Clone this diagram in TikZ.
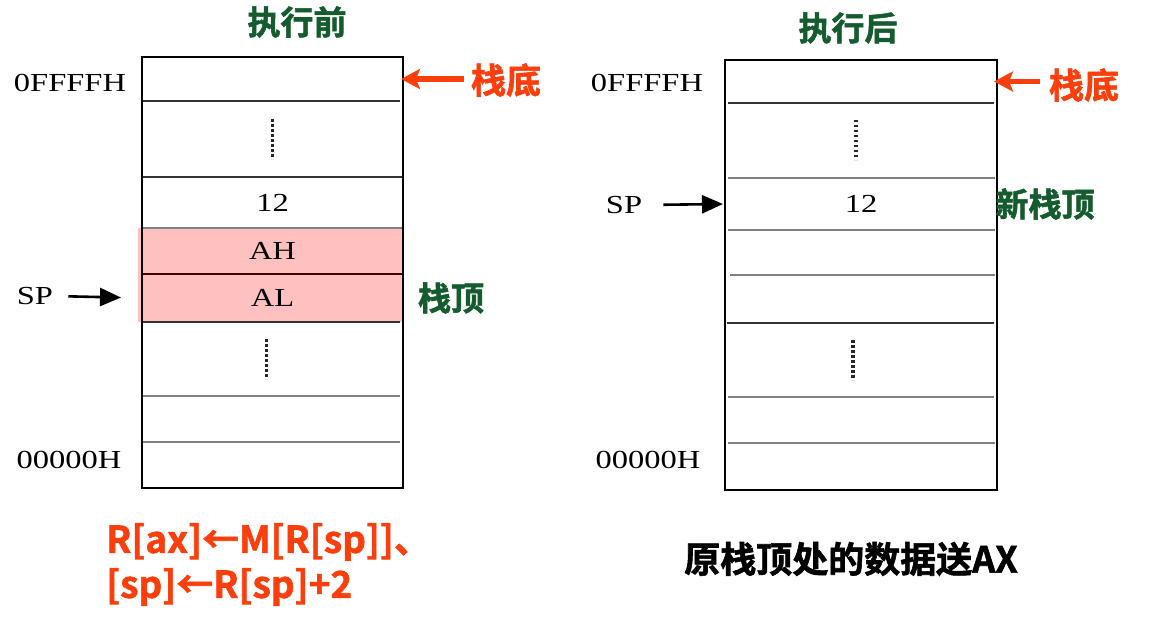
\documentclass[tikz,border=0pt]{standalone}
\usepackage{fontspec}
\setmainfont{Liberation Serif}
\newfontfamily\memfont{Liberation Serif}[FakeStretch=1.25]
\newfontfamily\cjkfont{Noto Sans CJK SC Bold}[FakeBold=1.6]
\usetikzlibrary{arrows.meta,positioning,backgrounds}
\definecolor{stackGreen}{RGB}{20,92,46}
\definecolor{stackRed}{RGB}{250,62,12}
\definecolor{cellPink}{RGB}{255,192,192}
\tikzset{
  cell/.style={minimum width=261pt,inner sep=0pt,outer sep=0pt,font=\memfont\fontsize{26}{26}\selectfont},
  addr/.style={inner sep=0pt,font=\memfont\fontsize{26}{26}\selectfont},
  frame/.style={draw=black,line width=2.8pt},
  sep/.style={draw=black!80,line width=2.2pt},
  sep gray/.style={draw=black!50,line width=1.8pt},
  dots/.style={draw=black!85,line width=3.4pt,dash pattern=on 2.6pt off 2.4pt},
  title/.style={inner sep=0pt,text=stackGreen,font=\cjkfont\fontsize{33}{33}\selectfont},
  green label/.style={inner sep=0pt,text=stackGreen,font=\cjkfont\fontsize{33}{33}\selectfont},
  red label/.style={inner sep=0pt,text=stackRed,font=\cjkfont\fontsize{35}{35}\selectfont},
  formula/.style={inner sep=0pt,anchor=west,text=stackRed,font=\cjkfont\fontsize{37}{37}\selectfont},
  note/.style={inner sep=0pt,text=black,font=\cjkfont\fontsize{36}{36}\selectfont},
  sp arrow/.style={-{Triangle[length=21pt,width=18pt]},line width=2.6pt,draw=black},
  base arrow/.style={-{Stealth[length=19pt,width=20pt,inset=4pt]},line width=5.4pt,draw=stackRed}
}
\begin{document}
\begin{tikzpicture}[x=1pt,y=-1pt]
  \useasboundingbox (0,0) rectangle (1153,627);
  % before POP
  \node[title] (before) at (297,22) {执行前};
  \node[cell,anchor=north west,minimum height=44pt] (l1) at (142,57) {};
  \node[cell,minimum height=76pt,below=0pt of l1] (l2) {};
  \node[cell,minimum height=51pt,below=0pt of l2] (l3) {12};
  \node[cell,minimum height=46pt,below=0pt of l3] (l4) {AH};
  \node[cell,minimum height=48pt,below=0pt of l4] (l5) {AL};
  \node[cell,minimum height=74pt,below=0pt of l5] (l6) {};
  \node[cell,minimum height=46pt,below=0pt of l6] (l7) {};
  \node[cell,minimum height=46pt,below=0pt of l7] (l8) {};
  \begin{scope}[on background layer]
    \fill[cellPink] ([xshift=-4pt]l4.north west) rectangle (l5.south east);
  \end{scope}
  \draw[sep] (l1.south west) -- ([xshift=-3pt]l1.south east);
  \draw[sep] (l2.south west) -- (l2.south east);
  \draw[sep gray] (l3.south west) -- (l3.south east);
  \draw[draw=black!60!red!70!black,line width=1.8pt] (l4.south west) -- (l4.south east);
  \draw[sep] (l5.south west) -- ([xshift=-3pt]l5.south east);
  \draw[sep gray] (l6.south west) -- ([xshift=-3pt]l6.south east);
  \draw[sep gray] (l7.south west) -- ([xshift=-3pt]l7.south east);
  \draw[frame] (l1.north west) rectangle (l8.south east);
  \draw[dots] ([yshift=20pt]l2.center) -- ([yshift=-20pt]l2.center);
  \draw[dots] ([xshift=-6pt,yshift=20pt]l6.center) -- ([xshift=-6pt,yshift=-20pt]l6.center);
  \node[addr] (topL) at (70,83) {0FFFFH};
  \node[addr] (baseL) at (69,460) {00000H};
  \node[addr] (spL) at (35,296) {SP};
  \draw[sp arrow,shorten <=15pt,shorten >=21pt] (spL.east) -- (l5.west);
  \node[red label] (bottomTagL) at (506,80) {栈底};
  \draw[base arrow,shorten <=7pt,shorten >=-2pt] (bottomTagL.west |- l1.east) -- (l1.east);
  \node[green label] (topTagL) at (451,298) {栈顶};
  \node[formula] (opL1) at (106,542) {R[ax]←M[R[sp]]、};
  \node[formula] (opL2) at (106,587) {[sp]←R[sp]+2};
  % after POP
  \node[title] (after) at (848,28) {执行后};
  \node[cell,anchor=north west,minimum height=43pt,minimum width=272pt] (r1) at (725,60) {};
  \node[cell,minimum height=75pt,minimum width=272pt,below=0pt of r1] (r2) {};
  \node[cell,minimum height=52pt,minimum width=272pt,below=0pt of r2] (r3) {12};
  \node[cell,minimum height=45pt,minimum width=272pt,below=0pt of r3] (r4) {};
  \node[cell,minimum height=48pt,minimum width=272pt,below=0pt of r4] (r5) {};
  \node[cell,minimum height=74pt,minimum width=272pt,below=0pt of r5] (r6) {};
  \node[cell,minimum height=46pt,minimum width=272pt,below=0pt of r6] (r7) {};
  \node[cell,minimum height=47pt,minimum width=272pt,below=0pt of r7] (r8) {};
  \draw[sep] ([xshift=3pt]r1.south west) -- ([xshift=-3pt]r1.south east);
  \draw[sep gray] ([xshift=3pt]r2.south west) -- ([xshift=-2pt]r2.south east);
  \draw[sep gray,line width=2.6pt] ([xshift=3pt]r3.south west) -- ([xshift=-2pt]r3.south east);
  \draw[sep gray] ([xshift=5pt]r4.south west) -- ([xshift=-2pt]r4.south east);
  \draw[sep] ([xshift=2pt]r5.south west) -- ([xshift=-3pt]r5.south east);
  \draw[sep gray] ([xshift=3pt]r6.south west) -- ([xshift=-3pt]r6.south east);
  \draw[sep gray,line width=2.6pt] ([xshift=3pt]r7.south west) -- ([xshift=-2pt]r7.south east);
  \draw[frame] (r1.north west) rectangle (r8.south east);
  \draw[dots] ([xshift=-5pt,yshift=21pt]r2.center) -- ([xshift=-5pt,yshift=-19pt]r2.center);
  \draw[dots] ([xshift=-8pt,yshift=20pt]r6.center) -- ([xshift=-8pt,yshift=-20pt]r6.center);
  \node[addr] (topR) at (647,83) {0FFFFH};
  \node[addr] (baseR) at (648,460) {00000H};
  \node[addr] (spR) at (624,205) {SP};
  \draw[sp arrow,shorten <=21pt,shorten >=2pt] (spR.east) -- (r3.west);
  \node[red label] (bottomTagR) at (1084,85) {栈底};
  \draw[base arrow,shorten <=9pt,shorten >=-3pt] (bottomTagR.west |- r1.east) -- (r1.east);
  \node[green label] (topTagR) at (1045,204) {新栈顶};
  \node[note] (result) at (851,559) {原栈顶处的数据送AX};
\end{tikzpicture}
\end{document}
